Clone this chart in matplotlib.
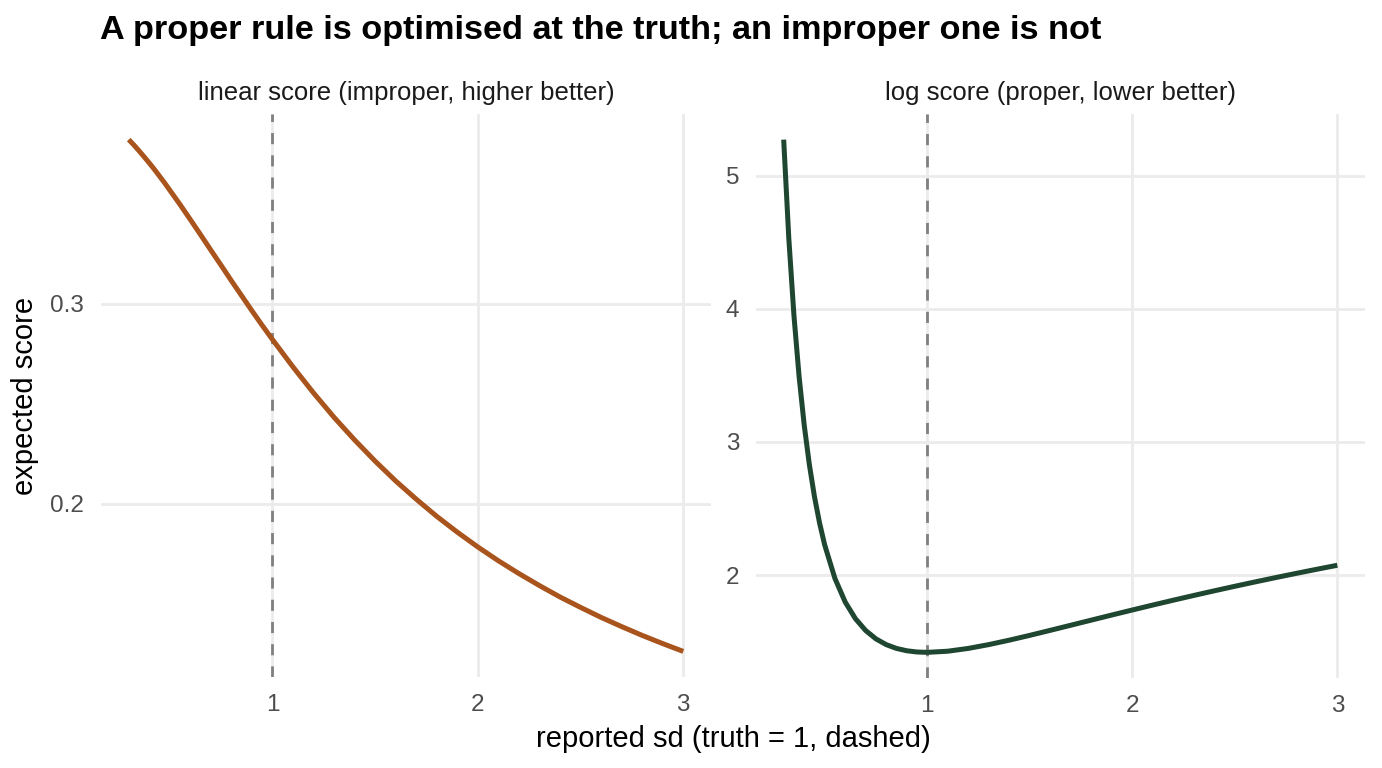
import matplotlib
matplotlib.use("Agg")
import matplotlib.pyplot as plt

plt.rcParams['font.family'] = ['Liberation Sans', 'DejaVu Sans']

# reported sd values
sd = [0.300, 0.325, 0.350, 0.375, 0.400, 0.425, 0.450, 0.475, 0.500, 0.55, 0.60, 0.65,
      0.70, 0.75, 0.80, 0.85, 0.90, 0.95, 1.00, 1.1, 1.2, 1.3, 1.4, 1.5, 1.6, 1.7, 1.8,
      1.9, 2.0, 2.1, 2.2, 2.3, 2.4, 2.5, 2.6, 2.7, 2.8, 2.9, 3.0]
# expected linear score (improper, higher better)
linear_score = [0.3821, 0.3794, 0.3765, 0.3735, 0.3704, 0.3672, 0.3638, 0.3604, 0.3568,
                0.3496, 0.3421, 0.3345, 0.3268, 0.3192, 0.3115, 0.3040, 0.2965, 0.2892,
                0.2821, 0.2684, 0.2554, 0.2432, 0.2319, 0.2213, 0.2114, 0.2023, 0.1937,
                0.1858, 0.1784, 0.1715, 0.1651, 0.1591, 0.1534, 0.1482, 0.1432, 0.1386,
                0.1342, 0.1301, 0.1262]
# expected log score (proper, lower better)
log_score = [5.2705, 4.5287, 3.9508, 3.4937, 3.1276, 2.8314, 2.5896, 2.3906, 2.2258,
             1.9740, 1.7970, 1.6716, 1.5827, 1.5201, 1.4770, 1.4485, 1.4309, 1.4217,
             1.4189, 1.4275, 1.4485, 1.4772, 1.5105, 1.5466, 1.5843, 1.6226, 1.6610,
             1.6993, 1.7371, 1.7743, 1.8107, 1.8464, 1.8812, 1.9152, 1.9484, 1.9808,
             2.0123, 2.0431, 2.0731]
truth_sd = 1.0

panel_titles = ["linear score (improper, higher better)", "log score (proper, lower better)"]
series = [linear_score, log_score]
colors = ["#A8541C", "#1F4630"]
yticks = [[0.2, 0.3], [2, 3, 4, 5]]
xticks = [1, 2, 3]

fig = plt.figure(figsize=(13.82, 7.68), dpi=100)
W, H = 1382, 768
panels = [(101, 114, 711, 677), (756, 114, 1365, 678)]
grid_col = "#EBEBEB"
for i, (x0, y0, x1, y1) in enumerate(panels):
    ax = fig.add_axes([x0 / W, 1 - y1 / H, (x1 - x0) / W, (y1 - y0) / H])
    ys = series[i]
    xr = max(sd) - min(sd)
    ax.set_xlim(min(sd) - 0.05 * xr, max(sd) + 0.05 * xr)
    yr = max(ys) - min(ys)
    ax.set_ylim(min(ys) - 0.05 * yr, max(ys) + 0.05 * yr)
    ax.set_xticks(xticks)
    ax.set_xticklabels([str(t) for t in xticks])
    ax.set_yticks(yticks[i])
    ax.set_yticklabels([f"{t:g}" for t in yticks[i]])
    ax.grid(True, color=grid_col, linewidth=2.0, zorder=0)
    ax.set_axisbelow(True)
    for s in ax.spines.values():
        s.set_visible(False)
    ax.tick_params(length=0, labelsize=17.5, colors="#4D4D4D")
    ax.tick_params(axis="x", pad=12)
    ax.tick_params(axis="y", pad=12)
    ax.axvline(truth_sd, color="#808080", linestyle=(0, (4, 4)), linewidth=2.0, zorder=2)
    ax.plot(sd, ys, color=colors[i], linewidth=3.6, solid_capstyle="butt",
            solid_joinstyle="round", zorder=3)
    ax.set_title(panel_titles[i], fontsize=18.5, color="#1A1A1A", pad=10)
    if i == 0:
        ax.set_ylabel("expected score", fontsize=21, color="black", labelpad=8)

fig.text(100 / W, 1 - 31 / H, "A proper rule is optimised at the truth; an improper one is not",
         fontsize=24.7, fontweight="bold", ha="left", va="center", color="black")
fig.text(733 / W, 1 - 739 / H, "reported sd (truth = 1, dashed)", fontsize=21,
         ha="center", va="center", color="black")

fig.savefig("out.png", dpi=100, facecolor="white")
